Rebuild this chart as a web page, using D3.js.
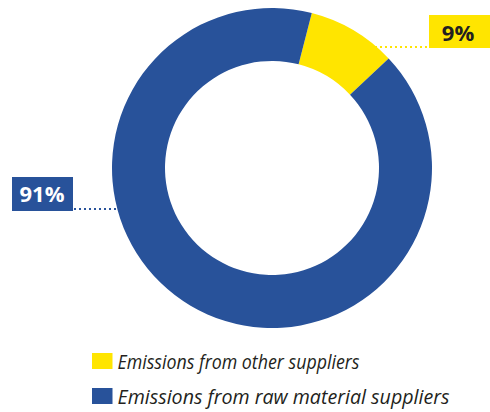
<!DOCTYPE html>
<html lang="en">
<head>
<meta charset="UTF-8">
<title>Emissions by supplier type</title>
<style>
    body { margin: 0; background: #fff; }
    svg { display: block; }
</style>
</head>
<body>
<svg width="490" height="412"></svg>
<script src="https://d3js.org/d3.v7.min.js"></script>
<script>
    // data
    var categories = ["Emissions from other suppliers", "Emissions from raw material suppliers"];
    var shares = [9, 91];
    var labels = ["9%", "91%"];
    var colors = ["#FFE500", "#28529A"];

    var svg = d3.select("svg");

    var cx = 272, cy = 168;
    var outerR = 160, innerR = 107;

    // yellow slice starts a little right of 12 o'clock
    var start = 14.4 * Math.PI / 180;
    var pie = d3.pie().sort(null).startAngle(start).endAngle(start + 2 * Math.PI);
    var arc = d3.arc().innerRadius(innerR).outerRadius(outerR);

    var g = svg.append("g").attr("transform", "translate(" + cx + "," + cy + ")");
    g.selectAll("path")
        .data(pie(shares))
        .enter().append("path")
        .attr("d", arc)
        .attr("fill", function (d, i) { return colors[i]; });

    // callout labels
    var callouts = [
        { box: [429, 15, 64, 33], textX: 458, textY: 41, line: [375, 47, 429], fill: "#231f20" },
        { box: [12, 177, 61, 34], textX: 42, textY: 202, line: [74, 209, 116], fill: "#ffffff" }
    ];

    callouts.forEach(function (c, i) {
        svg.append("line")
            .attr("x1", c.line[0]).attr("x2", c.line[2])
            .attr("y1", c.line[1]).attr("y2", c.line[1])
            .attr("stroke", colors[i])
            .attr("stroke-width", 2)
            .attr("stroke-dasharray", "2,3");
        svg.append("rect")
            .attr("x", c.box[0]).attr("y", c.box[1])
            .attr("width", c.box[2]).attr("height", c.box[3])
            .attr("fill", colors[i]);
        svg.append("text")
            .attr("x", c.textX).attr("y", c.textY)
            .attr("text-anchor", "middle")
            .attr("font-family", "Open Sans, sans-serif")
            .attr("font-weight", "bold")
            .attr("font-size", 22)
            .attr("fill", c.fill)
            .text(labels[i]);
    });

    // legend
    var legend = svg.append("g").attr("transform", "translate(92, 353)");
    var items = legend.selectAll("g")
        .data(categories)
        .enter().append("g")
        .attr("transform", function (d, i) { return "translate(0," + i * 35 + ")"; });

    items.append("rect")
        .attr("width", 20.5)
        .attr("height", 16)
        .attr("fill", function (d, i) { return colors[i]; });

    items.append("text")
        .attr("x", 25.5)
        .attr("y", 16)
        .attr("font-family", "Open Sans, sans-serif")
        .attr("font-style", "italic")
        .attr("font-size", 19.5)
        .attr("fill", "#231f20")
        .attr("textLength", function (d, i) { return i === 0 ? 242 : 332; })
        .attr("lengthAdjust", "spacingAndGlyphs")
        .text(function (d) { return d; });
</script>
</body>
</html>
